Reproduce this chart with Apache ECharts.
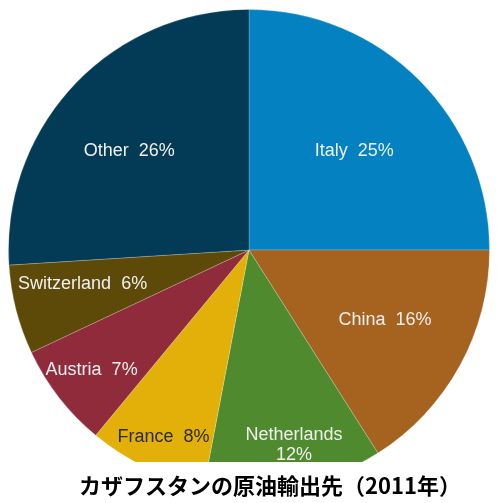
<!DOCTYPE html>
<html>
<head>
<meta charset="utf-8">
<script src="https://cdn.jsdelivr.net/npm/echarts@6/dist/echarts.min.js"></script>
<style>
html,body{margin:0;padding:0;background:#fff;}
#chart{width:502px;height:503px;}
</style>
</head>
<body>
<div id="chart"></div>
<script>
const categories = ['Italy', 'China', 'Netherlands', 'France', 'Austria', 'Switzerland', 'Other'];
const shares = [25, 16, 12, 8, 7, 6, 26];
const titleText = 'カザフスタンの原油輸出先（2011年）';

const colors = ['#0481c0', '#a5631f', '#4f8a2e', '#e2b008', '#8f2b3b', '#5e4a08', '#033a56'];
const labelColors = ['#f0f0f0', '#f0f0f0', '#f0f0f0', '#2b2b2b', '#f0f0f0', '#f0f0f0', '#f0f0f0'];
const labelOffsets = [[18, -12], [28, 11], [22, 74], [-33, 76], [-60, 44], [-47, 3], [-30, -15]];

const chart = echarts.init(document.getElementById('chart'));
chart.setOption({
  animation: false,
  title: {
    text: titleText,
    left: 79,
    top: 475,
    padding: 0,
    z: 200,
    textStyle: {
      fontFamily: '"Noto Sans CJK JP"',
      fontWeight: 'bold',
      fontSize: 22,
      color: '#000'
    }
  },
  graphic: [{
    type: 'rect',
    z: 100,
    shape: { x: 0, y: 462, width: 502, height: 41 },
    style: { fill: '#fff' }
  }],
  series: [{
    type: 'pie',
    center: [249, 250],
    radius: [0, 240.5],
    startAngle: 90,
    clockwise: true,
    avoidLabelOverlap: false,
    itemStyle: { borderColor: 'rgba(255,255,255,0.35)', borderWidth: 0.6 },
    label: {
      show: true,
      position: 'inside',
      fontFamily: '"Liberation Sans", Arial, sans-serif',
      fontSize: 18,
      lineHeight: 20,
      formatter: function (p) {
        return p.name === 'Netherlands' ? p.name + '\n' + p.value + '%' : p.name + '  ' + p.value + '%';
      }
    },
    labelLine: { show: false },
    emphasis: { disabled: true },
    data: categories.map((c, i) => ({
      name: c,
      value: shares[i],
      itemStyle: { color: colors[i] },
      label: { color: labelColors[i], offset: labelOffsets[i] }
    }))
  }]
});
</script>
</body>
</html>
